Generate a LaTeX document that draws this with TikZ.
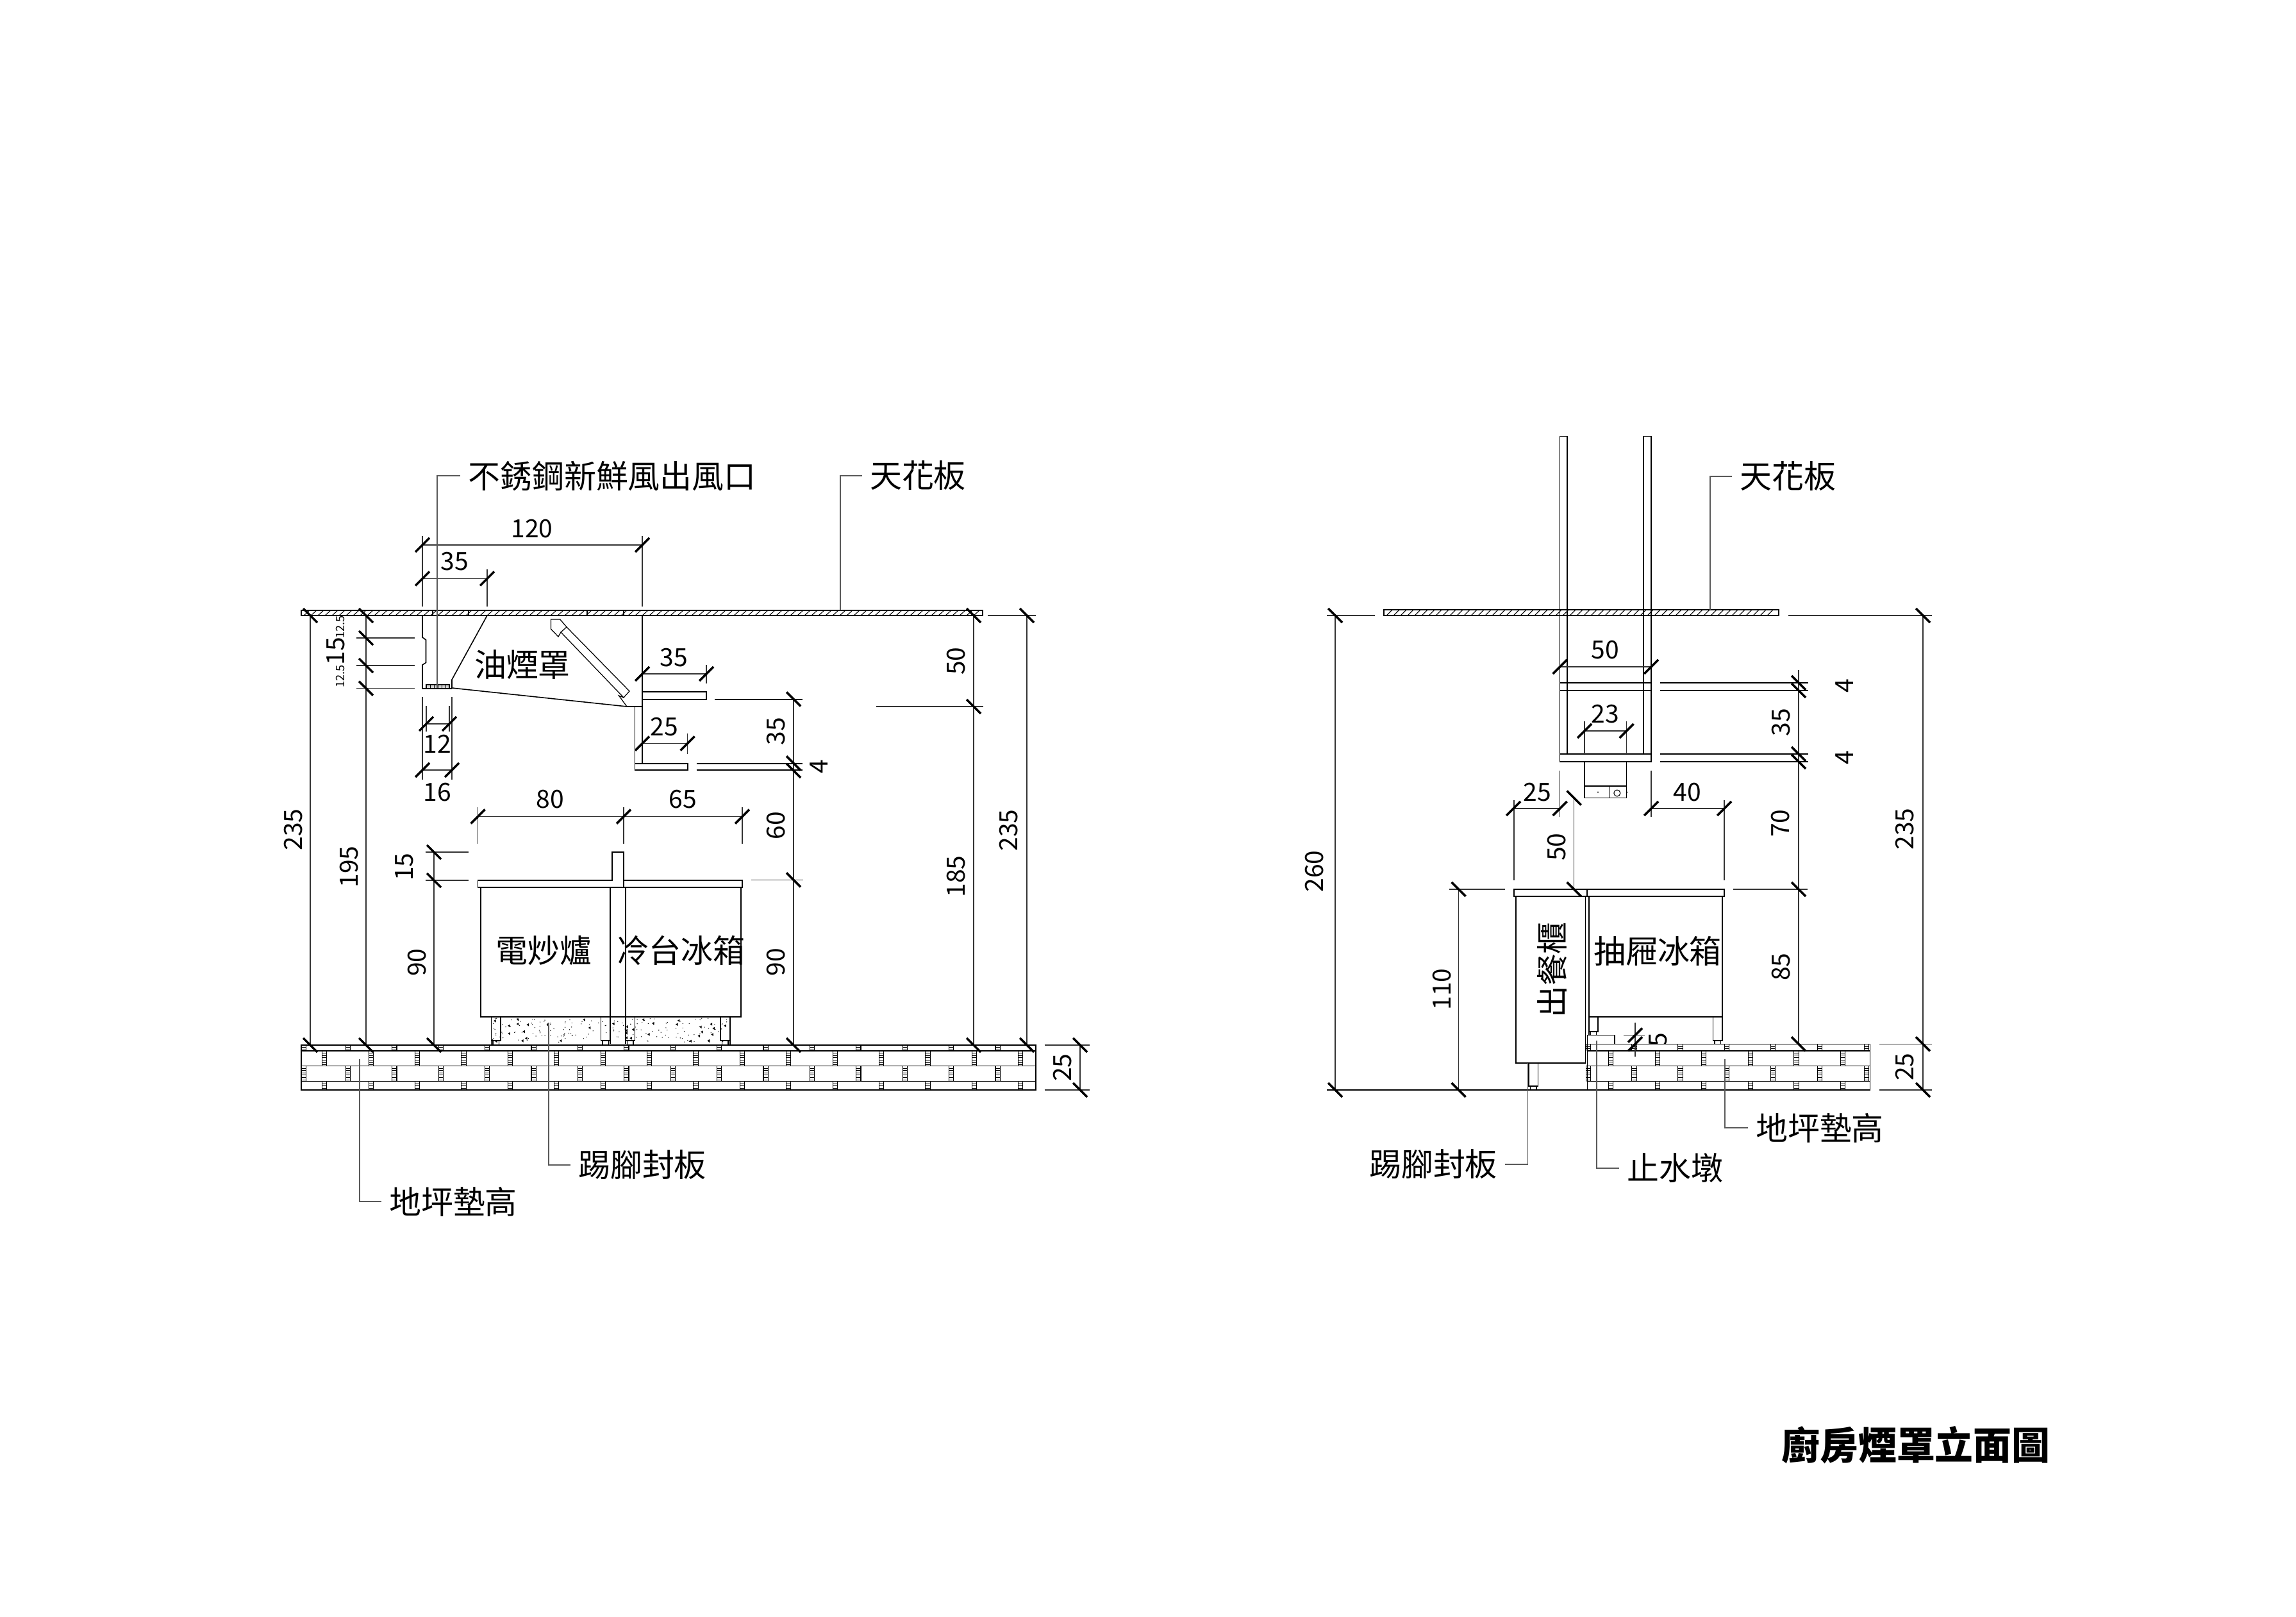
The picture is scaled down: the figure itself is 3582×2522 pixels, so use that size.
\documentclass[tikz,border=0pt]{standalone}
\usepackage{fontspec}
\setmainfont{Noto Sans CJK TC}
\usepackage{tikz}
\usetikzlibrary{positioning}

\tikzset{
	part/.style={black,line width=0.45pt},
	dimline/.style={black!80,line width=0.4pt},
	leader/.style={black!65,line width=0.35pt},
	tickmark/.style={black,line width=1pt},
	num/.style={font=\fontsize{11.1pt}{12pt}\selectfont,inner sep=0pt},
	numv/.style={num,rotate=90},
	small/.style={font=\fontsize{5.2pt}{6pt}\selectfont,inner sep=0pt,rotate=90},
	tag/.style={font=\fontsize{14.2pt}{15pt}\selectfont,inner sep=0pt,outer sep=3.4pt}
}

% Ladder joint between two bricks.
\newcommand{\brickjoint}[3]{
	\draw[part,line width=0.3pt] (#1-3.6,#2) -- (#1-3.6,#3) (#1+3.6,#2) -- (#1+3.6,#3);
	\pgfmathsetmacro{\rungnext}{#2+3.6}
	\pgfmathsetmacro{\rungend}{#3-1}
	\foreach \r in {#2,\rungnext,...,\rungend}
		\draw[part,line width=0.25pt] (#1-3.6,\r) -- (#1+3.6,\r);
}

\begin{document}
\begin{tikzpicture}[x=0.01cm,y=-0.01cm]
	\useasboundingbox (0,0) rectangle (3582,2522);

	% Left view: ceiling.
	\draw[part] (470,952) rectangle (1533,960);
	\foreach \x in {474,485,...,1525}
		\draw[part,line width=0.3pt] (\x,960) -- (\x+9,952);
	\foreach \x in {675,731,916,973}
		\draw[part,line width=0.3pt] (\x,952) -- (\x,960);

	% Left view: hood.
	\draw[part] (760,960) -- (705,1060) -- (705,1073) -- (978,1102) -- (1002,1102) -- (1002,960);
	\draw[part] (659,960) -- (659,994) -- (664.5,998) -- (664.5,1033.5) -- (659,1037) -- (659,1074) -- (705,1074);
	\draw[part,line width=0.3pt] (665,1068) rectangle (701,1074);
	\draw[part,line width=0.25pt] (665,1071) -- (701,1071);
	\foreach \x in {671,677,...,696}
		\draw[part,line width=0.25pt] (\x,1068) -- (\x,1074);

	% Left view: filter.
	\draw[part,line width=0.35pt] (884,978) -- (982,1078) -- (973,1088) -- (875,986) -- cycle;
	\draw[part,line width=0.35pt] (875,986) -- (871,993) -- (859.4,981) -- (859.4,966) -- (873.7,966) -- (884,978);
	\draw[part,line width=0.35pt] (973,1088) -- (965.5,1085) -- (978,1102);

	% Left view: shelves.
	\draw[part] (1002,1079) rectangle (1102,1091);
	\draw[part] (990.5,1102) -- (990.5,1191);
	\draw[part] (990.5,1191) rectangle (1073,1201);
	\draw[part] (1002,1102) -- (1002,1191);
	\draw[part] (1086.5,1191) -- (1252,1191) (1086.5,1201) -- (1252,1201);
	\draw[part] (1115,1091) -- (1252,1091);

	% Left view: counter and cabinets.
	\draw[part] (745.6,1373) -- (955,1373) -- (955,1329) -- (973,1329) -- (973,1373) -- (1158,1373) -- (1158,1384) -- (745.6,1384) -- cycle;
	\draw[part] (973,1373) -- (973,1384);
	\draw[part] (749.7,1384) -- (749.7,1586) -- (1156,1586) -- (1156,1384);
	\draw[part] (952,1384) -- (952,1628) (976,1384) -- (976,1628);

	% Left view: toe kick with speckle.
	\pgfmathsetseed{11}
	\foreach \i in {1,...,170}{
		\pgfmathsetmacro{\px}{768+rnd*369}
		\pgfmathsetmacro{\py}{1588+rnd*38}
		\fill[black] (\px,\py) circle (0.7);
	}
	\foreach \i in {1,...,36}{
		\pgfmathsetmacro{\px}{770+rnd*365}
		\pgfmathsetmacro{\py}{1590+rnd*34}
		\fill[black] (\px,\py) -- ++(3.5,-2) -- ++(0,4.5) -- cycle;
	}
	\draw[part] (766.5,1586) -- (766.5,1630) (1139,1586) -- (1139,1630);
	\foreach \x in {766.5,937.5,976,1124}{
		\draw[part,line width=0.35pt] (\x,1586) rectangle (\x+14.5,1623);
		\draw[part,line width=0.35pt] (\x+2.5,1623) rectangle (\x+12,1630);
	}

	% Left view: raised floor.
	\fill[white] (470,1630) rectangle (1616,1700);
	\draw[part] (470,1630) rectangle (1616,1700);
	\draw[part] (470,1639) -- (1616,1639) (470,1662.5) -- (1616,1662.5) (470,1686.5) -- (1616,1686.5);
	\brickjoint{473.6}{1630}{1639}
	\brickjoint{473.6}{1662.5}{1686.5}
	\foreach \k in {0,...,14}{
		\pgfmathsetmacro{\xa}{543+72.4*\k}
		\brickjoint{\xa}{1630}{1639}
		\brickjoint{\xa}{1662.5}{1686.5}
	}
	\foreach \k in {0,...,15}{
		\pgfmathsetmacro{\xb}{506.3+72.4*\k}
		\brickjoint{\xb}{1639}{1662.5}
		\brickjoint{\xb}{1686.5}{1700}
	}

	% Left view: dimension lines.
	\draw[dimline] (659,850) -- (1002,850);
	\draw[dimline] (659,836) -- (659,946) (1002,836) -- (1002,946);
	\draw[dimline] (659,902.5) -- (760,902.5);
	\draw[dimline] (760,888) -- (760,946);
	\draw[dimline] (1002,1051) -- (1102,1051) (1102,1037) -- (1102,1066);
	\draw[dimline] (1002,1159.6) -- (1072.6,1159.6) (1072.6,1144) -- (1072.6,1176);
	\draw[dimline] (665,1129) -- (701,1129) (665,1101) -- (665,1141) (701,1101) -- (701,1141);
	\draw[dimline] (659,1201) -- (705,1201) (659,1087) -- (659,1216) (705,1087) -- (705,1216);
	\draw[dimline] (745.6,1273.6) -- (1158,1273.6);
	\foreach \x in {745.6,973,1158}
		\draw[dimline] (\x,1259) -- (\x,1316);
	\draw[dimline] (484,960) -- (484,1630);
	\draw[dimline] (571,960) -- (571,1630);
	\foreach \y in {995,1038,1073.6}
		\draw[dimline] (556,\y) -- (646.6,\y);
	\draw[dimline] (677,1329) -- (677,1630);
	\draw[dimline] (663.5,1329) -- (731,1329) (663.5,1373) -- (731,1373);
	\draw[dimline] (1238,1090.5) -- (1238,1630);
	\draw[dimline] (1172,1372.4) -- (1252.5,1372.4);
	\draw[dimline] (1519,960) -- (1519,1630);
	\draw[dimline] (1367.4,1102) -- (1533.7,1102);
	\draw[dimline] (1602,960) -- (1602,1630);
	\draw[dimline] (1541,960) -- (1616,960);
	\draw[dimline] (1685,1630) -- (1685,1700);
	\draw[dimline] (1629.5,1630) -- (1699.6,1630) (1629.5,1700) -- (1699.6,1700);

	% Left view: ticks.
	\foreach \x/\y in {659/850,1002/850,659/902.5,760/902.5,1002/1051,1102/1051,1002/1159.6,1072.6/1159.6,665/1129,701/1129,659/1201,705/1201,745.6/1273.6,973/1273.6,1158/1273.6}
		\draw[tickmark] (\x,\y) ++(-11,11) -- ++(22,-22);
	\foreach \x/\y in {484/960,484/1630,571/960,571/995,571/1038,571/1073.6,571/1630,677/1329,677/1373,677/1630,1238/1090.5,1238/1190.4,1238/1202,1238/1372.4,1238/1630,1519/960,1519/1102,1519/1630,1602/960,1602/1630,1685/1630,1685/1700}
		\draw[tickmark] (\x,\y) ++(-11,-11) -- ++(22,22);

	% Left view: numbers.
	\node[num] (lTopW) at (830,825) {120};
	\node[num] (lTopN) at (709,876) {35};
	\node[num] (lShelfA) at (1051,1026) {35};
	\node[num] (lShelfB) at (1036,1133.5) {25};
	\node[num] (lVentA) at (682,1160) {12};
	\node[num] (lVentB) at (682,1236) {16};
	\node[num] (lCounterA) at (858,1247) {80};
	\node[num] (lCounterB) at (1065.5,1247) {65};
	\node[numv] (lHighA) at (458,1294) {235};
	\node[numv] (lHighB) at (545,1352) {195};
	\node[numv] (lFifteen) at (524,1016) {15};
	\node[small] (lPartA) at (531,978) {12.5};
	\node[small] (lPartB) at (531,1055) {12.5};
	\node[numv] (lUpstand) at (631,1352) {15};
	\node[numv] (lCabinetA) at (651,1501) {90};
	\node[numv] (lShelfC) at (1211,1140.7) {35};
	\node[numv] (lShelfD) at (1278,1196) {4};
	\node[numv] (lGapA) at (1211,1287.7) {60};
	\node[numv] (lCabinetB) at (1211,1500.5) {90};
	\node[numv] (lRightA) at (1492,1031) {50};
	\node[numv] (lRightB) at (1492,1367) {185};
	\node[numv] (lRightC) at (1574,1295) {235};
	\node[numv] (lFloor) at (1657.5,1665) {25};

	% Left view: labels and leaders.
	\node[tag] (lFresh) at (955,742) {不銹鋼新鮮風出風口};
	\node[tag] (lCeil) at (1432,742) {天花板};
	\node[tag] (lHood) at (815,1037) {油煙罩};
	\node[tag] (lStove) at (848.7,1483) {電炒爐};
	\node[tag] (lFridge) at (1062.4,1483) {冷台冰箱};
	\node[tag] (lKick) at (1002,1817) {踢腳封板};
	\node[tag] (lRaise) at (707,1874) {地坪墊高};
	\coordinate (lFreshEnd) at (682,1073);
	\coordinate (lCeilEnd) at (1311,952);
	\coordinate (lKickEnd) at (856,1595);
	\coordinate (lRaiseEnd) at (561,1652);
	\draw[leader] (lFreshEnd) |- (lFresh.west);
	\draw[leader] (lCeilEnd) |- (lCeil.west);
	\draw[leader] (lKickEnd) |- (lKick.west);
	\draw[leader] (lRaiseEnd) |- (lRaise.west);

	% Right view: the small number is cut by the floor.
	\node[numv] (rCurb) at (2587,1622) {5};

	% Right view: ceiling and duct.
	\draw[part] (2159,951) rectangle (2775,960);
	\foreach \x in {2163,2174,...,2767}
		\draw[part,line width=0.3pt] (\x,960) -- (\x+9,951);
	\draw[part] (2433.5,1176) -- (2433.5,680.4) -- (2445,680.4) -- (2445,1176);
	\draw[part] (2564,1176) -- (2564,680.4) -- (2576,680.4) -- (2576,1176);

	% Right view: shelves.
	\draw[part] (2433.5,1065) rectangle (2576,1077);
	\draw[part] (2433.5,1176) rectangle (2576,1188);
	\foreach \y in {1065,1077,1176,1188}
		\draw[part] (2590,\y) -- (2821,\y);

	% Right view: box under the shelf.
	\draw[part] (2472,1188) -- (2472,1244.5) -- (2537.5,1244.5) -- (2537.5,1188);
	\draw[part] (2472,1226) -- (2537.5,1226);
	\draw[part,line width=0.3pt] (2511.6,1226) -- (2511.6,1244.5);
	\draw[part,line width=0.3pt] (2522.8,1237) circle (5);
	\fill[black] (2493,1235.5) circle (1.2) (2538.5,1235.5) circle (1);

	% Right view: counter and cabinets.
	\draw[part] (2362,1387) rectangle (2475.5,1398);
	\draw[part] (2476.5,1387) rectangle (2690,1398);
	\draw[part] (2365,1398) rectangle (2473.5,1658);
	\draw[part] (2479,1398) -- (2479,1586) -- (2687,1586) -- (2687,1398);
	\draw[part] (2473.5,1658) -- (2473.5,1628);
	\draw[part] (2479,1586) -- (2479,1615);
	\draw[part,line width=0.35pt] (2479,1586) rectangle (2493,1609);
	\draw[part,line width=0.35pt] (2481.5,1609) rectangle (2490.5,1614.6);
	\draw[part,line width=0.35pt] (2672.5,1586) rectangle (2687,1623);
	\draw[part,line width=0.35pt] (2675,1623) rectangle (2684.5,1628.4);
	\draw[part,line width=0.35pt] (2385,1658) rectangle (2399.5,1694);
	\draw[part,line width=0.35pt] (2387.5,1694) rectangle (2397,1700);
	\draw[part] (2476.5,1614.6) rectangle (2519,1628.4);

	% Right view: raised floor.
	\fill[white] (2476.5,1628.4) rectangle (2917.4,1700);
	\draw[part] (2476.5,1628.4) rectangle (2917.4,1700);
	\draw[part] (2476.5,1638.7) -- (2917.4,1638.7) (2476.5,1662.4) -- (2917.4,1662.4) (2476.5,1686.5) -- (2917.4,1686.5);
	\draw[part] (2070,1700) -- (2476.5,1700);
	\foreach \xa in {2478,2549.5,2621.4,2694,2766,2839,2912}{
		\brickjoint{\xa}{1628.4}{1638.7}
		\brickjoint{\xa}{1662.4}{1686.5}
	}
	\foreach \xb in {2513,2585.7,2658,2730.6,2802.5,2875}{
		\brickjoint{\xb}{1638.7}{1662.4}
		\brickjoint{\xb}{1686.5}{1700}
	}

	% Right view: dimension lines.
	\draw[dimline] (2433.5,1040) -- (2576,1040);
	\draw[dimline] (2472,1140) -- (2537.5,1140) (2472,1125) -- (2472,1176) (2537.5,1125) -- (2537.5,1176);
	\draw[dimline] (2361,1261) -- (2433.5,1261) (2576,1261) -- (2690,1261);
	\draw[dimline] (2433.5,1201.6) -- (2433.5,1274) (2576,1201.6) -- (2576,1274);
	\draw[dimline] (2362,1248) -- (2362,1373) (2690,1248) -- (2690,1373);
	\draw[dimline] (2455.6,1244.5) -- (2455.6,1387);
	\draw[dimline] (2275.5,1387) -- (2275.5,1700);
	\draw[dimline] (2261,1387) -- (2348,1387);
	\draw[dimline] (2083,960) -- (2083,1700);
	\draw[dimline] (2070,960) -- (2145,960);
	\draw[dimline] (2806,1045) -- (2806,1628.4);
	\draw[dimline] (2703.6,1387) -- (2820.4,1387);
	\draw[dimline] (2790,960) -- (3014,960);
	\draw[dimline] (3000,960) -- (3000,1700);
	\draw[dimline] (2932,1628.4) -- (3014,1628.4) (2932,1700) -- (3014,1700);
	\draw[dimline] (2551,1594.7) -- (2551,1648) (2533,1614.6) -- (2566,1614.6);

	% Right view: ticks.
	\foreach \x/\y in {2433.5/1040,2576/1040,2472/1140,2537.5/1140,2361/1261,2433.5/1261,2576/1261,2690/1261,2551/1614.6,2551/1628.4}
		\draw[tickmark] (\x,\y) ++(-11,11) -- ++(22,-22);
	\foreach \x/\y in {2455.6/1244.5,2455.6/1387,2275.5/1387,2275.5/1700,2083/960,2083/1700,2806/1065,2806/1077,2806/1176,2806/1188,2806/1387,2806/1628.4,3000/960,3000/1628.4,3000/1700}
		\draw[tickmark] (\x,\y) ++(-11,-11) -- ++(22,22);

	% Right view: numbers.
	\node[num] (rDuct) at (2504,1014) {50};
	\node[num] (rBox) at (2504,1114) {23};
	\node[num] (rTopA) at (2398,1235.5) {25};
	\node[num] (rTopB) at (2632,1235.5) {40};
	\node[numv] (rShelfA) at (2878,1070) {4};
	\node[numv] (rShelfB) at (2778.6,1126.5) {35};
	\node[numv] (rShelfC) at (2878,1181.6) {4};
	\node[numv] (rGapA) at (2428.6,1321) {50};
	\node[numv] (rGapB) at (2778,1284) {70};
	\node[numv] (rCabinet) at (2778.6,1508) {85};
	\node[numv] (rCounter) at (2250,1543) {110};
	\node[numv] (rHighA) at (2051,1359) {260};
	\node[numv] (rHighB) at (2972,1293) {235};
	\node[numv] (rFloor) at (2972,1664) {25};

	% Right view: labels and leaders.
	\node[tag] (rCeil) at (2789,743) {天花板};
	\node[tag,rotate=90] (rServe) at (2421,1513) {出餐櫃};
	\node[tag] (rDrawer) at (2586,1483) {抽屜冰箱};
	\node[tag] (rKick) at (2236,1816) {踢腳封板};
	\node[tag] (rCurbTag) at (2613,1822) {止水墩};
	\node[tag] (rRaise) at (2839,1759) {地坪墊高};
	\coordinate (rCeilEnd) at (2668,951);
	\coordinate (rKickEnd) at (2383.7,1658);
	\coordinate (rCurbEnd) at (2491,1623);
	\coordinate (rRaiseEnd) at (2691,1652);
	\draw[leader] (rCeilEnd) |- (rCeil.west);
	\draw[leader] (rKickEnd) |- (rKick.east);
	\draw[leader] (rCurbEnd) |- (rCurbTag.west);
	\draw[leader] (rRaiseEnd) |- (rRaise.west);

	% Title.
	\node[font=\fontsize{17pt}{18pt}\selectfont\bfseries,inner sep=0pt] (drawTitle) at (2989,2254) {廚房煙罩立面圖};
\end{tikzpicture}
\end{document}
